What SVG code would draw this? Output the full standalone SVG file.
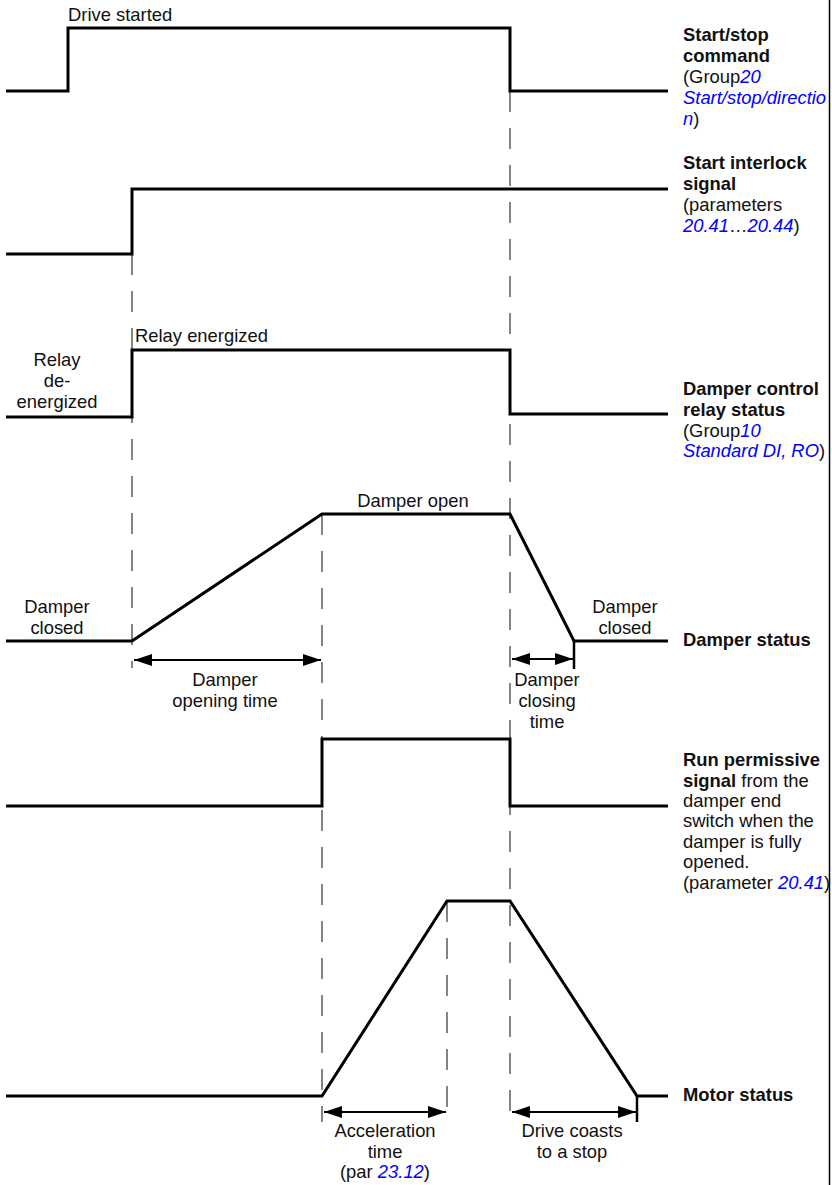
<svg xmlns="http://www.w3.org/2000/svg" width="832" height="1185" viewBox="0 0 832 1185">
<style>
text{font-family:"Liberation Sans",Arial,sans-serif;font-size:18.4px;fill:#111}
.b{font-weight:bold}
.c{text-anchor:middle}
.l{fill:#0000ff;font-style:italic}
.sig{fill:none;stroke:#000;stroke-width:3;stroke-linejoin:miter}
.dash{fill:none;stroke:#333;stroke-width:1.2;stroke-dasharray:21 16}
.tick{fill:none;stroke:#000;stroke-width:2.5}
.arr{fill:none;stroke:#000;stroke-width:2;marker-start:url(#ah);marker-end:url(#ah)}
</style>
<defs>
<marker id="ah" viewBox="0 0 18 12" refX="18" refY="6" markerWidth="18" markerHeight="12" markerUnits="userSpaceOnUse" orient="auto-start-reverse">
<path d="M0,0 L18,6 L0,12 Z" fill="#000"/>
</marker>
</defs>
<line x1="829.5" y1="0" x2="829.5" y2="1185" stroke="#000" stroke-width="1.5"/>
<g id="connectors">
<path class="dash" d="M132,254 V668"/>
<path class="dash" d="M322,514 V1122"/>
<path class="dash" d="M510,91 V1122"/>
<path class="dash" d="M447,901 V1122"/>
<path class="tick" d="M574,641 V669"/>
<path class="tick" d="M637,1096 V1122"/>
<path class="arr" d="M134,660 H321"/>
<path class="arr" d="M512,659 H573"/>
<path class="arr" d="M324,1112 H446"/>
<path class="arr" d="M512,1112 H636"/>
</g>
<g id="start-stop">
<path class="sig" d="M6,91 H68 V28 H510 V91 H668"/>
<text x="68" y="20.5">Drive started</text>
<text x="683" y="41" class="b">Start/stop</text>
<text x="683" y="62" class="b">command</text>
<text x="683" y="83">(Group<tspan class="l">20</tspan></text>
<text x="683" y="104" class="l">Start/stop/directio</text>
<text x="683" y="125"><tspan class="l">n</tspan>)</text>
</g>
<g id="start-interlock">
<path class="sig" d="M6,254 H132 V189 H668"/>
<text x="683" y="169" class="b">Start interlock</text>
<text x="683" y="190" class="b">signal</text>
<text x="683" y="211">(parameters</text>
<text x="683" y="232"><tspan class="l">20.41</tspan>…<tspan class="l">20.44</tspan>)</text>
</g>
<g id="relay">
<path class="sig" d="M6,417 H132 V350 H510 V414 H668"/>
<text x="135" y="342">Relay energized</text>
<text x="57" y="366" class="c">Relay</text>
<text x="57" y="387" class="c">de-</text>
<text x="57" y="408" class="c">energized</text>
<text x="683" y="395" class="b">Damper control</text>
<text x="683" y="416" class="b">relay status</text>
<text x="683" y="437">(Group<tspan class="l">10</tspan></text>
<text x="683" y="457"><tspan class="l">Standard DI, RO</tspan>)</text>
</g>
<g id="damper">
<path class="sig" d="M6,641 H132 L322,514 H510 L574,641 H668"/>
<text x="413" y="507" class="c">Damper open</text>
<text x="57" y="613" class="c">Damper</text>
<text x="57" y="634" class="c">closed</text>
<text x="625" y="613" class="c">Damper</text>
<text x="625" y="634" class="c">closed</text>
<text x="225" y="686" class="c">Damper</text>
<text x="225" y="707" class="c">opening time</text>
<text x="547" y="686" class="c">Damper</text>
<text x="547" y="707" class="c">closing</text>
<text x="547" y="728" class="c">time</text>
<text x="683" y="646" class="b">Damper status</text>
</g>
<g id="run-permissive">
<path class="sig" d="M6,806 H322 V739 H510 V806 H668"/>
<text x="683" y="766" class="b">Run permissive</text>
<text x="683" y="787"><tspan class="b">signal</tspan> from the</text>
<text x="683" y="807">damper end</text>
<text x="683" y="827">switch when the</text>
<text x="683" y="848">damper is fully</text>
<text x="683" y="868">opened.</text>
<text x="683" y="889">(parameter <tspan class="l">20.41</tspan>)</text>
</g>
<g id="motor">
<path class="sig" d="M6,1096 H322 L447,901 H510 L637,1096 H668"/>
<text x="385" y="1137" class="c">Acceleration</text>
<text x="385" y="1158" class="c">time</text>
<text x="385" y="1178" class="c">(par <tspan class="l">23.12</tspan>)</text>
<text x="572" y="1137" class="c">Drive coasts</text>
<text x="572" y="1158" class="c">to a stop</text>
<text x="683" y="1101" class="b">Motor status</text>
</g>
</svg>
